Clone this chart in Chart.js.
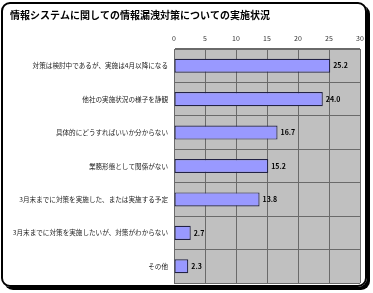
<!DOCTYPE html>
<html>
<head>
<meta charset="utf-8">
<script src="https://cdn.jsdelivr.net/npm/chart.js@4/dist/chart.umd.min.js"></script>
<style>
  html, body { margin: 0; padding: 0; background: #fff; }
  #wrap { position: relative; width: 373px; height: 293px; }
  #frame {
    position: absolute; left: 1px; top: 2px; width: 362px; height: 281px;
    border: 2px solid #000; border-radius: 9px; box-shadow: 3px 3px 0 #000;
    pointer-events: none;
  }
  canvas { position: absolute; left: 0; top: 0; }
</style>
</head>
<body>
<div id="wrap">
  <canvas id="chart" width="373" height="293"></canvas>
  <div id="frame"></div>
</div>
<script>
const titleText = "情報システムに関しての情報漏洩対策についての実施状況"
const categories = [
  "対策は検討中であるが、実施は4月以降になる",
  "他社の実施状況の様子を静観",
  "具体的にどうすればいいか分からない",
  "業務形態として関係がない",
  "3月末までに対策を実施した、または実施する予定",
  "3月末までに対策を実施したいが、対策がわからない",
  "その他"
]
const values = [25.2, 24.0, 16.7, 15.2, 13.8, 2.7, 2.3]
const tickValues = [0, 5, 10, 15, 20, 25, 30]

const jpFont = "'Noto Sans CJK JP', 'Noto Sans', sans-serif"

// grey plot background
const plotBg = {
  id: "plotBg",
  beforeDraw(chart) {
    const { ctx, chartArea: a } = chart
    ctx.save()
    ctx.fillStyle = "#c0c0c0"
    ctx.fillRect(a.left, a.top, a.right - a.left, a.bottom - a.top)
    ctx.restore()
  },
}

// value labels at the end of each bar
const valueLabels = {
  id: "valueLabels",
  afterDatasetsDraw(chart) {
    const { ctx } = chart
    const meta = chart.getDatasetMeta(0)
    ctx.save()
    ctx.font = "bold 7px " + jpFont
    ctx.fillStyle = "#000"
    ctx.textBaseline = "middle"
    meta.data.forEach((bar, i) => {
      ctx.fillText(values[i].toFixed(1), bar.x + 3, bar.y)
    })
    ctx.restore()
  },
}

new Chart(document.getElementById("chart").getContext("2d"), {
  type: "bar",
  data: {
    labels: categories,
    datasets: [
      {
        data: values,
        backgroundColor: "#9999ff",
        borderColor: "#222244",
        borderWidth: 1.2,
        borderSkipped: false,
        categoryPercentage: 1,
        barPercentage: 0.42,
      },
    ],
  },
  options: {
    indexAxis: "y",
    responsive: false,
    animation: false,
    layout: { padding: { top: 0, right: 13, bottom: 10, left: 10 } },
    scales: {
      x: {
        position: "top",
        min: 0,
        max: 30,
        afterBuildTicks: (axis) => {
          axis.ticks = tickValues.map((v) => ({ value: v }))
        },
        afterFit: (axis) => { axis.height = 19 },
        ticks: {
          padding: 6,
          color: "#333",
          font: { size: 7, family: jpFont },
        },
        grid: { color: "#6a6a6a", lineWidth: 1, drawTicks: false },
        border: { color: "#6a6a6a" },
      },
      y: {
        afterFit: (axis) => { axis.width = 164 },
        ticks: {
          padding: 6,
          color: "#222",
          font: { size: 6.6, family: jpFont },
        },
        grid: { color: "#6a6a6a", lineWidth: 1, drawTicks: false, offset: true },
        border: { color: "#6a6a6a" },
      },
    },
    plugins: {
      legend: { display: false },
      tooltip: { enabled: false },
      title: {
        display: true,
        text: titleText,
        align: "start",
        color: "#000",
        font: { size: 10, weight: "bold", family: jpFont },
        padding: { top: 9, bottom: 9 },
      },
    },
  },
  plugins: [plotBg, valueLabels],
})
</script>
</body>
</html>
